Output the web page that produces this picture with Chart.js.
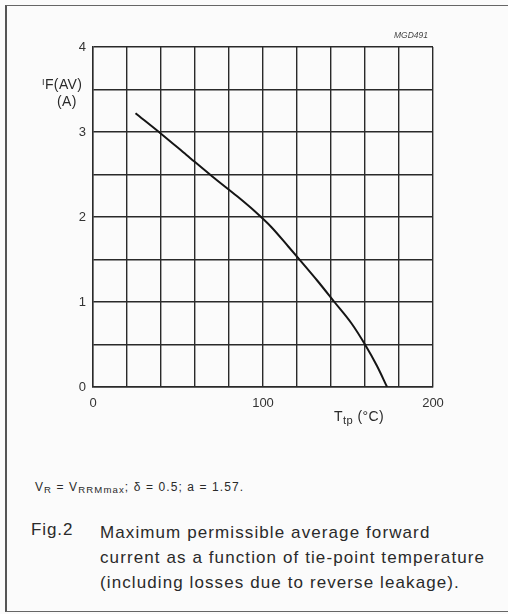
<!DOCTYPE html>
<html>
<head>
<meta charset="utf-8">
<script src="https://cdn.jsdelivr.net/npm/chart.js@4/dist/chart.umd.min.js"></script>
<style>
  body { margin: 0; background: #fbfbfb; font-family: "Liberation Sans", Arial, sans-serif; color: #2a2a2a; }
  #page { position: relative; width: 508px; height: 614px; overflow: hidden; background: #fbfbfb; }
  #frame { position: absolute; left: 5px; top: 5px; width: 520px; height: 605px;
           border-left: 2px solid #555; border-top: 1.5px solid #666; border-bottom: 1.5px solid #666; }
  #chartBox { position: absolute; left: 0; top: 0; width: 508px; height: 430px; }
  .t { position: absolute; white-space: nowrap; }
  sub { font-size: 0.8em; vertical-align: -0.25em; }
</style>
</head>
<body>
<div id="page">
  <div id="frame"></div>
  <div id="chartBox"><canvas id="fig2"></canvas></div>

  <div class="t" style="left:394px; top:30px; font-size:8.5px; font-style:italic; color:#444;">MGD491</div>
  <div class="t" style="left:42px; top:76px; font-size:14px; letter-spacing:0.4px;"><span style="font-size:9px; vertical-align:4px;">I</span>F(AV)</div>
  <div class="t" style="left:57px; top:93px; font-size:14px; letter-spacing:0.4px;">(A)</div>
  <div class="t" style="left:334px; top:408px; font-size:14px; letter-spacing:0.4px;">T<sub>tp</sub> (°C)</div>

  <div class="t" style="left:35px; top:480px; font-size:12px; letter-spacing:1.1px;">V<sub>R</sub> = V<sub>RRMmax</sub>; δ = 0.5; a = 1.57.</div>

  <div class="t" style="left:31px; top:520px; font-size:17px; letter-spacing:0.9px;">Fig.2</div>
  <div class="t" style="left:100px; top:520px; font-size:17px; letter-spacing:1.1px; line-height:25px;">
    Maximum permissible average forward<br>
    current as a function of tie-point temperature<br>
    (including losses due to reverse leakage).
  </div>
</div>

<script>
// tie-point temperature (°C) and max average forward current (A)
var tempTp = [25, 40, 55, 70, 85, 95, 105, 115, 121, 132, 142, 152, 160, 167, 173];
var currentAv = [3.22, 2.98, 2.73, 2.48, 2.24, 2.07, 1.88, 1.65, 1.51, 1.25, 1.0, 0.75, 0.5, 0.25, 0];

var xLabels = [0, 100, 200];
var yLabels = [0, 1, 2, 3, 4];

var gridColor = '#2a2a2a';
var tickFont = { family: 'Liberation Sans', size: 13 };

var ctx = document.getElementById('fig2').getContext('2d');
var chart = new Chart(ctx, {
    type: 'line',
    data: {
        datasets: [{
            data: tempTp.map(function(t, i) { return { x: t, y: currentAv[i] }; }),
            borderColor: '#151515',
            borderWidth: 2,
            pointRadius: 0,
            fill: false,
            cubicInterpolationMode: 'monotone'
        }]
    },
    options: {
        responsive: true,
        maintainAspectRatio: false,
        animation: false,
        events: [],
        layout: { padding: { left: 0, top: 47, right: 75, bottom: 13 } },
        plugins: { legend: { display: false }, tooltip: { enabled: false } },
        scales: {
            x: {
                type: 'linear',
                min: 0,
                max: 200,
                afterFit: function(s) { s.height = 30; },
                ticks: {
                    stepSize: 20,
                    padding: 9,
                    maxRotation: 0,
                    autoSkip: false,
                    color: '#333',
                    font: tickFont,
                    callback: function(v) { return xLabels.indexOf(v) >= 0 ? v : ''; }
                },
                grid: { color: gridColor, lineWidth: 1.4, drawTicks: false },
                border: { color: gridColor, width: 1.4 }
            },
            y: {
                min: 0,
                max: 4,
                afterFit: function(s) { s.width = 93; },
                ticks: {
                    stepSize: 0.5,
                    padding: 7,
                    autoSkip: false,
                    color: '#333',
                    font: tickFont,
                    callback: function(v) { return yLabels.indexOf(v) >= 0 ? v : ''; }
                },
                grid: { color: gridColor, lineWidth: 1.4, drawTicks: false },
                border: { color: gridColor, width: 1.4 }
            }
        }
    }
});
</script>
</body>
</html>
